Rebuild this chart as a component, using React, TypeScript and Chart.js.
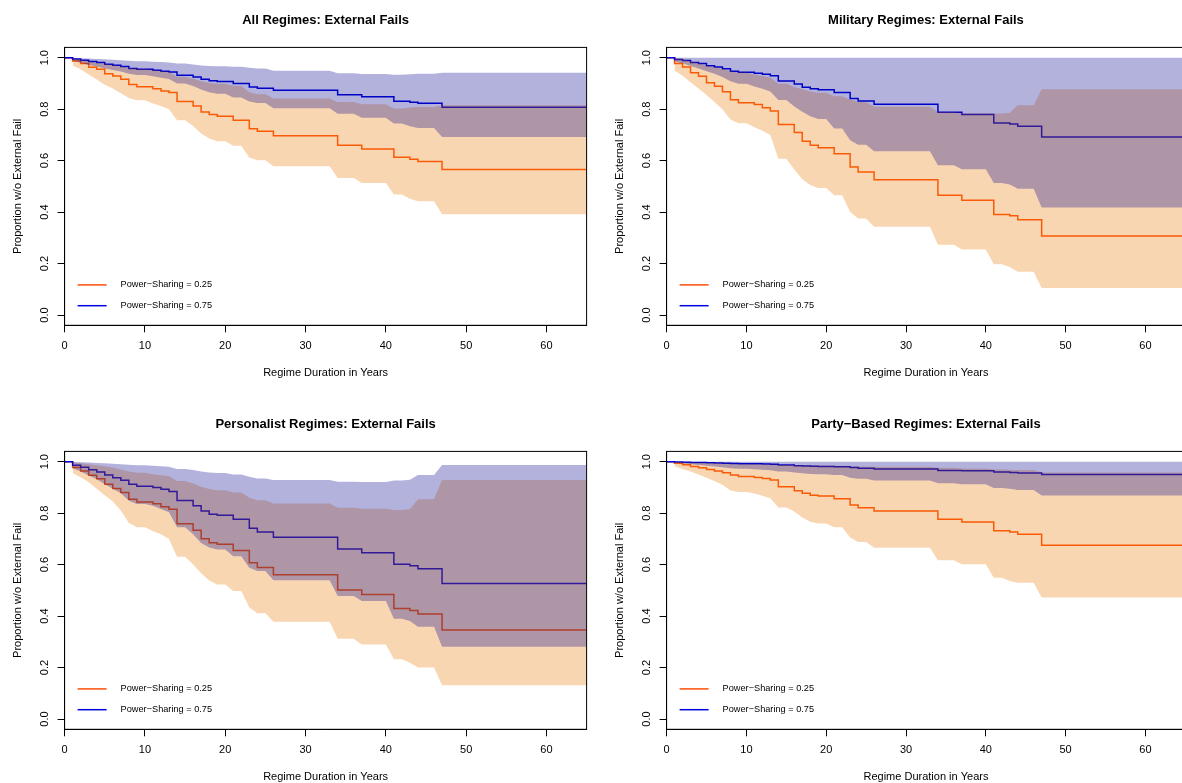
import React, { useEffect, useRef } from "react";
import { Chart, registerables } from "chart.js";

Chart.register(...registerables);

const FONT = "'Liberation Sans', Arial, Helvetica, sans-serif";

// ---- data ----
const eventYears = [1, 2, 3, 4, 5, 6, 7, 8, 9, 11, 12, 13, 14, 16, 17, 18, 19, 21, 23, 24, 26, 34, 37, 41, 43, 44, 47];
const startSurvival = 1.0;
const xAxisMin = 0;
const xAxisMax = 65;
const yAxisMin = -0.04;
const yAxisMax = 1.04;
const xTickValues = [0, 10, 20, 30, 40, 50, 60];
const yTickValues = [0.0, 0.2, 0.4, 0.6, 0.8, 1.0];
const legendLabels = ["Power−Sharing = 0.25", "Power−Sharing = 0.75"];
const panelTitles = [
  "All Regimes: External Fails",
  "Military Regimes: External Fails",
  "Personalist Regimes: External Fails",
  "Party−Based Regimes: External Fails",
];
const xAxisTitle = "Regime Duration in Years";
const yAxisTitle = "Proportion w/o External Fail";

// All regimes
const allLow = [0.987, 0.977, 0.963, 0.955, 0.938, 0.929, 0.916, 0.896, 0.887, 0.879, 0.871, 0.865, 0.830, 0.812, 0.789, 0.779, 0.772, 0.757, 0.724, 0.714, 0.697, 0.660, 0.645, 0.613, 0.605, 0.597, 0.565];
const allLowLower = [0.970, 0.955, 0.935, 0.915, 0.895, 0.880, 0.862, 0.843, 0.835, 0.822, 0.812, 0.800, 0.757, 0.735, 0.705, 0.686, 0.675, 0.658, 0.612, 0.601, 0.578, 0.532, 0.513, 0.468, 0.452, 0.442, 0.392];
const allLowUpper = [0.997, 0.992, 0.986, 0.981, 0.976, 0.972, 0.967, 0.961, 0.957, 0.952, 0.948, 0.944, 0.926, 0.918, 0.908, 0.902, 0.899, 0.890, 0.866, 0.858, 0.841, 0.828, 0.819, 0.803, 0.806, 0.808, 0.815];
const allHigh = [0.995, 0.990, 0.985, 0.981, 0.975, 0.971, 0.966, 0.958, 0.955, 0.951, 0.947, 0.944, 0.932, 0.925, 0.916, 0.910, 0.907, 0.900, 0.886, 0.881, 0.873, 0.856, 0.848, 0.831, 0.827, 0.823, 0.807];
const allHighLower = [0.988, 0.980, 0.972, 0.966, 0.958, 0.952, 0.946, 0.938, 0.933, 0.928, 0.922, 0.917, 0.900, 0.890, 0.876, 0.866, 0.860, 0.845, 0.830, 0.824, 0.804, 0.782, 0.767, 0.744, 0.734, 0.727, 0.692];
const allHighUpper = [0.999, 0.998, 0.997, 0.995, 0.994, 0.992, 0.990, 0.988, 0.986, 0.984, 0.983, 0.981, 0.977, 0.974, 0.970, 0.968, 0.967, 0.965, 0.961, 0.958, 0.949, 0.940, 0.937, 0.934, 0.936, 0.938, 0.941];

// Military regimes
const milLow = [0.977, 0.964, 0.941, 0.928, 0.903, 0.889, 0.868, 0.837, 0.825, 0.818, 0.805, 0.793, 0.740, 0.709, 0.675, 0.660, 0.650, 0.627, 0.575, 0.556, 0.526, 0.465, 0.446, 0.391, 0.386, 0.370, 0.307];
const milLowLower = [0.950, 0.930, 0.905, 0.880, 0.855, 0.828, 0.800, 0.760, 0.745, 0.730, 0.716, 0.700, 0.607, 0.565, 0.528, 0.505, 0.494, 0.465, 0.400, 0.375, 0.343, 0.273, 0.255, 0.197, 0.187, 0.168, 0.105];
const milLowUpper = [0.998, 0.994, 0.986, 0.979, 0.970, 0.964, 0.957, 0.947, 0.942, 0.935, 0.929, 0.923, 0.899, 0.886, 0.877, 0.869, 0.864, 0.850, 0.838, 0.828, 0.809, 0.789, 0.784, 0.783, 0.785, 0.815, 0.877];
const milHigh = [0.993, 0.989, 0.981, 0.977, 0.969, 0.964, 0.957, 0.947, 0.943, 0.940, 0.936, 0.930, 0.909, 0.898, 0.885, 0.879, 0.875, 0.865, 0.841, 0.832, 0.819, 0.788, 0.779, 0.746, 0.742, 0.734, 0.692];
const milHighLower = [0.985, 0.978, 0.968, 0.958, 0.947, 0.938, 0.925, 0.908, 0.899, 0.888, 0.879, 0.869, 0.836, 0.810, 0.790, 0.772, 0.762, 0.725, 0.679, 0.662, 0.636, 0.582, 0.566, 0.513, 0.507, 0.491, 0.418];
const milHighUpper = [1.0, 1.0, 1.0, 1.0, 1.0, 1.0, 1.0, 1.0, 1.0, 1.0, 1.0, 1.0, 1.0, 1.0, 1.0, 1.0, 1.0, 1.0, 1.0, 1.0, 1.0, 1.0, 1.0, 1.0, 1.0, 1.0, 1.0];

// Personalist regimes
const perLow = [0.977, 0.964, 0.947, 0.934, 0.912, 0.896, 0.880, 0.854, 0.843, 0.837, 0.825, 0.815, 0.759, 0.734, 0.701, 0.685, 0.679, 0.655, 0.607, 0.589, 0.561, 0.501, 0.484, 0.429, 0.422, 0.408, 0.346];
const perLowLower = [0.955, 0.940, 0.920, 0.895, 0.870, 0.845, 0.810, 0.762, 0.745, 0.730, 0.718, 0.700, 0.631, 0.600, 0.566, 0.538, 0.523, 0.497, 0.433, 0.411, 0.378, 0.312, 0.290, 0.232, 0.219, 0.200, 0.131];
const perLowUpper = [0.998, 0.994, 0.990, 0.986, 0.982, 0.976, 0.970, 0.962, 0.957, 0.951, 0.947, 0.943, 0.925, 0.915, 0.903, 0.894, 0.889, 0.880, 0.860, 0.850, 0.838, 0.821, 0.817, 0.812, 0.815, 0.854, 0.929];
const perHigh = [0.986, 0.978, 0.969, 0.960, 0.948, 0.938, 0.928, 0.912, 0.905, 0.900, 0.893, 0.884, 0.849, 0.829, 0.808, 0.796, 0.792, 0.776, 0.741, 0.727, 0.706, 0.661, 0.646, 0.601, 0.596, 0.584, 0.527];
const perHighLower = [0.975, 0.962, 0.946, 0.932, 0.912, 0.895, 0.877, 0.848, 0.836, 0.829, 0.816, 0.804, 0.745, 0.718, 0.684, 0.667, 0.659, 0.633, 0.588, 0.575, 0.539, 0.478, 0.459, 0.390, 0.381, 0.359, 0.281];
const perHighUpper = [0.999, 0.998, 0.997, 0.995, 0.994, 0.992, 0.990, 0.988, 0.986, 0.984, 0.982, 0.980, 0.972, 0.968, 0.962, 0.958, 0.956, 0.950, 0.941, 0.935, 0.929, 0.922, 0.921, 0.927, 0.930, 0.948, 0.987];

// Party-based regimes
const parLow = [0.994, 0.988, 0.981, 0.976, 0.970, 0.964, 0.957, 0.948, 0.942, 0.939, 0.935, 0.929, 0.903, 0.887, 0.877, 0.870, 0.867, 0.856, 0.832, 0.821, 0.808, 0.776, 0.766, 0.732, 0.727, 0.718, 0.675];
const parLowLower = [0.982, 0.972, 0.962, 0.950, 0.938, 0.925, 0.910, 0.888, 0.882, 0.876, 0.868, 0.858, 0.822, 0.806, 0.783, 0.767, 0.760, 0.745, 0.705, 0.688, 0.666, 0.617, 0.601, 0.549, 0.536, 0.530, 0.472];
const parLowUpper = [0.999, 0.998, 0.997, 0.996, 0.995, 0.994, 0.993, 0.992, 0.991, 0.990, 0.990, 0.989, 0.988, 0.987, 0.986, 0.985, 0.985, 0.984, 0.982, 0.981, 0.980, 0.976, 0.974, 0.970, 0.969, 0.968, 0.958];
const parHigh = [0.999, 0.998, 0.997, 0.997, 0.996, 0.995, 0.994, 0.993, 0.992, 0.992, 0.991, 0.990, 0.987, 0.984, 0.983, 0.982, 0.981, 0.980, 0.977, 0.975, 0.972, 0.966, 0.965, 0.960, 0.958, 0.956, 0.950];
const parHighLower = [0.996, 0.993, 0.990, 0.987, 0.984, 0.981, 0.978, 0.975, 0.973, 0.971, 0.969, 0.967, 0.962, 0.958, 0.955, 0.952, 0.951, 0.948, 0.938, 0.934, 0.927, 0.916, 0.912, 0.898, 0.895, 0.890, 0.869];
const parHighUpper = [1.0, 1.0, 1.0, 1.0, 1.0, 1.0, 1.0, 1.0, 1.0, 1.0, 1.0, 1.0, 1.0, 1.0, 1.0, 1.0, 1.0, 1.0, 1.0, 1.0, 1.0, 1.0, 1.0, 1.0, 1.0, 1.0, 1.0];

// ---- styles ----
const ORANGE_LINE = "rgb(255,78,10)";
const BLUE_LINE = "rgb(0,0,225)";
const ORANGE_BAND = "rgba(235,120,0,0.3)";
const BLUE_BAND = "rgba(0,0,139,0.3)";
const CLEAR = "rgba(0,0,0,0)";

type Pt = { x: number; y: number };

function stepPoints(values: number[]): Pt[] {
  const pts: Pt[] = [{ x: xAxisMin, y: startSurvival }];
  eventYears.forEach((t, i) => pts.push({ x: t, y: values[i] }));
  pts.push({ x: xAxisMax, y: values[values.length - 1] });
  return pts;
}

// confidence polygon joins yearly time points (value held until the year before the next event)
function bandPoints(values: number[]): Pt[] {
  const pts: Pt[] = [];
  eventYears.forEach((t, i) => {
    if (i > 0 && t - 1 > eventYears[i - 1]) pts.push({ x: t - 1, y: values[i - 1] });
    pts.push({ x: t, y: values[i] });
  });
  pts.push({ x: xAxisMax, y: values[values.length - 1] });
  return pts;
}

type Panel = {
  title: string;
  left: number;
  top: number;
  height: number;
  padRight: number;
  titlePadTop: number;
  titlePadBottom: number;
  xAxisHeight: number;
  xTitlePad: number;
  low: number[];
  lowLower: number[];
  lowUpper: number[];
  high: number[];
  highLower: number[];
  highUpper: number[];
};

const panels: Panel[] = [
  { title: panelTitles[0], left: 0, top: 0, height: 392, padRight: 13.4, titlePadTop: 12.9, titlePadBottom: 18.9, xAxisHeight: 66.7, xTitlePad: 12.7,
    low: allLow, lowLower: allLowLower, lowUpper: allLowUpper, high: allHigh, highLower: allHighLower, highUpper: allHighUpper },
  { title: panelTitles[1], left: 602, top: 0, height: 392, padRight: 16.7, titlePadTop: 12.9, titlePadBottom: 18.9, xAxisHeight: 66.7, xTitlePad: 12.7,
    low: milLow, lowLower: milLowLower, lowUpper: milLowUpper, high: milHigh, highLower: milHighLower, highUpper: milHighUpper },
  { title: panelTitles[2], left: 0, top: 392, height: 408, padRight: 13.4, titlePadTop: 24.5, titlePadBottom: 19.3, xAxisHeight: 70.7, xTitlePad: 16.1,
    low: perLow, lowLower: perLowLower, lowUpper: perLowUpper, high: perHigh, highLower: perHighLower, highUpper: perHighUpper },
  { title: panelTitles[3], left: 602, top: 392, height: 408, padRight: 16.7, titlePadTop: 24.5, titlePadBottom: 19.3, xAxisHeight: 70.7, xTitlePad: 16.1,
    low: parLow, lowLower: parLowLower, lowUpper: parLowUpper, high: parHigh, highLower: parHighLower, highUpper: parHighUpper },
];

const frameAndLegend = {
  id: "frameAndLegend",
  afterDraw(chart: any) {
    const { ctx, chartArea } = chart;
    const { left, top, right, bottom } = chartArea;
    ctx.save();
    ctx.strokeStyle = "#000";
    ctx.lineWidth = 1;
    ctx.strokeRect(left, top, right - left, bottom - top);
    const colors = [ORANGE_LINE, BLUE_LINE];
    const offsets = [40.4, 19.6];
    legendLabels.forEach((label, i) => {
      const y = bottom - offsets[i];
      ctx.beginPath();
      ctx.strokeStyle = colors[i];
      ctx.lineWidth = 1.5;
      ctx.moveTo(left + 13, y);
      ctx.lineTo(left + 42, y);
      ctx.stroke();
      ctx.fillStyle = "#000";
      ctx.font = `9.2px ${FONT}`;
      ctx.textBaseline = "middle";
      ctx.textAlign = "left";
      ctx.fillText(label, left + 56, y);
    });
    ctx.restore();
  },
};

function bandDataset(values: number[], color: string | null) {
  return {
    data: bandPoints(values),
    fill: color ? "+1" : false,
    backgroundColor: color || CLEAR,
    borderColor: CLEAR,
    borderWidth: 0,
    pointRadius: 0,
    tension: 0,
  };
}

function lineDataset(values: number[], color: string) {
  return {
    data: stepPoints(values),
    stepped: "before",
    fill: false,
    borderColor: color,
    backgroundColor: color,
    borderWidth: 1.5,
    pointRadius: 0,
  };
}

function PanelChart({ p }: { p: Panel }) {
  const ref = useRef<HTMLCanvasElement | null>(null);
  useEffect(() => {
    if (!ref.current) return;
    const chart = new Chart(ref.current, {
      type: "line",
      data: {
        datasets: [
          bandDataset(p.highUpper, BLUE_BAND),
          bandDataset(p.highLower, null),
          bandDataset(p.lowUpper, ORANGE_BAND),
          bandDataset(p.lowLower, null),
          lineDataset(p.high, BLUE_LINE),
          lineDataset(p.low, ORANGE_LINE),
        ] as any,
      },
      options: {
        responsive: false,
        maintainAspectRatio: false,
        animation: false,
        events: [],
        layout: { padding: { left: 0, top: 0, bottom: 0, right: p.padRight } },
        plugins: {
          legend: { display: false },
          tooltip: { enabled: false },
          title: {
            display: true,
            text: p.title,
            color: "#000",
            font: { family: FONT, size: 13, weight: "bold" },
            padding: { top: p.titlePadTop, bottom: p.titlePadBottom },
            fullSize: false,
          } as any,
        },
        scales: {
          x: {
            type: "linear",
            min: xAxisMin,
            max: xAxisMax,
            afterBuildTicks: (s: any) => {
              s.ticks = xTickValues.map((v) => ({ value: v }));
            },
            afterFit: (s: any) => {
              s.height = p.xAxisHeight;
            },
            ticks: {
              autoSkip: false,
              maxRotation: 0,
              minRotation: 0,
              padding: 7.1,
              color: "#000",
              font: { family: FONT, size: 11 },
              callback: (v: any) => String(v),
            },
            grid: { drawOnChartArea: false, drawTicks: true, tickLength: 7, color: "#000", lineWidth: 1 },
            border: { display: true, color: "#000", width: 1 },
            title: {
              display: true,
              text: xAxisTitle,
              color: "#000",
              font: { family: FONT, size: 11 },
              padding: { top: 0, bottom: p.xTitlePad },
            },
          },
          y: {
            type: "linear",
            min: yAxisMin,
            max: yAxisMax,
            afterBuildTicks: (s: any) => {
              s.ticks = yTickValues.map((v) => ({ value: v }));
            },
            afterFit: (s: any) => {
              s.width = 64.6;
            },
            ticks: {
              autoSkip: false,
              minRotation: 90,
              maxRotation: 90,
              crossAlign: "center",
              padding: 5.35,
              color: "#000",
              font: { family: FONT, size: 11 },
              callback: (v: any) => Number(v).toFixed(1),
            },
            grid: { drawOnChartArea: false, drawTicks: true, tickLength: 7, color: "#000", lineWidth: 1 },
            border: { display: true, color: "#000", width: 1 },
            title: {
              display: true,
              text: yAxisTitle,
              color: "#000",
              font: { family: FONT, size: 11 },
              padding: { top: 11.2, bottom: 0 },
            },
          },
        },
      } as any,
      plugins: [frameAndLegend],
    });
    return () => chart.destroy();
  }, [p]);
  return (
    <canvas
      ref={ref}
      width={600}
      height={p.height}
      style={{ position: "absolute", left: p.left, top: p.top, width: 600, height: p.height }}
    />
  );
}

export default function App() {
  return (
    <div
      style={{
        position: "fixed",
        left: 0,
        top: 0,
        width: 1182,
        height: 783,
        overflow: "hidden",
        background: "#fff",
      }}
    >
      {panels.map((p, i) => (
        <PanelChart key={i} p={p} />
      ))}
    </div>
  );
}
